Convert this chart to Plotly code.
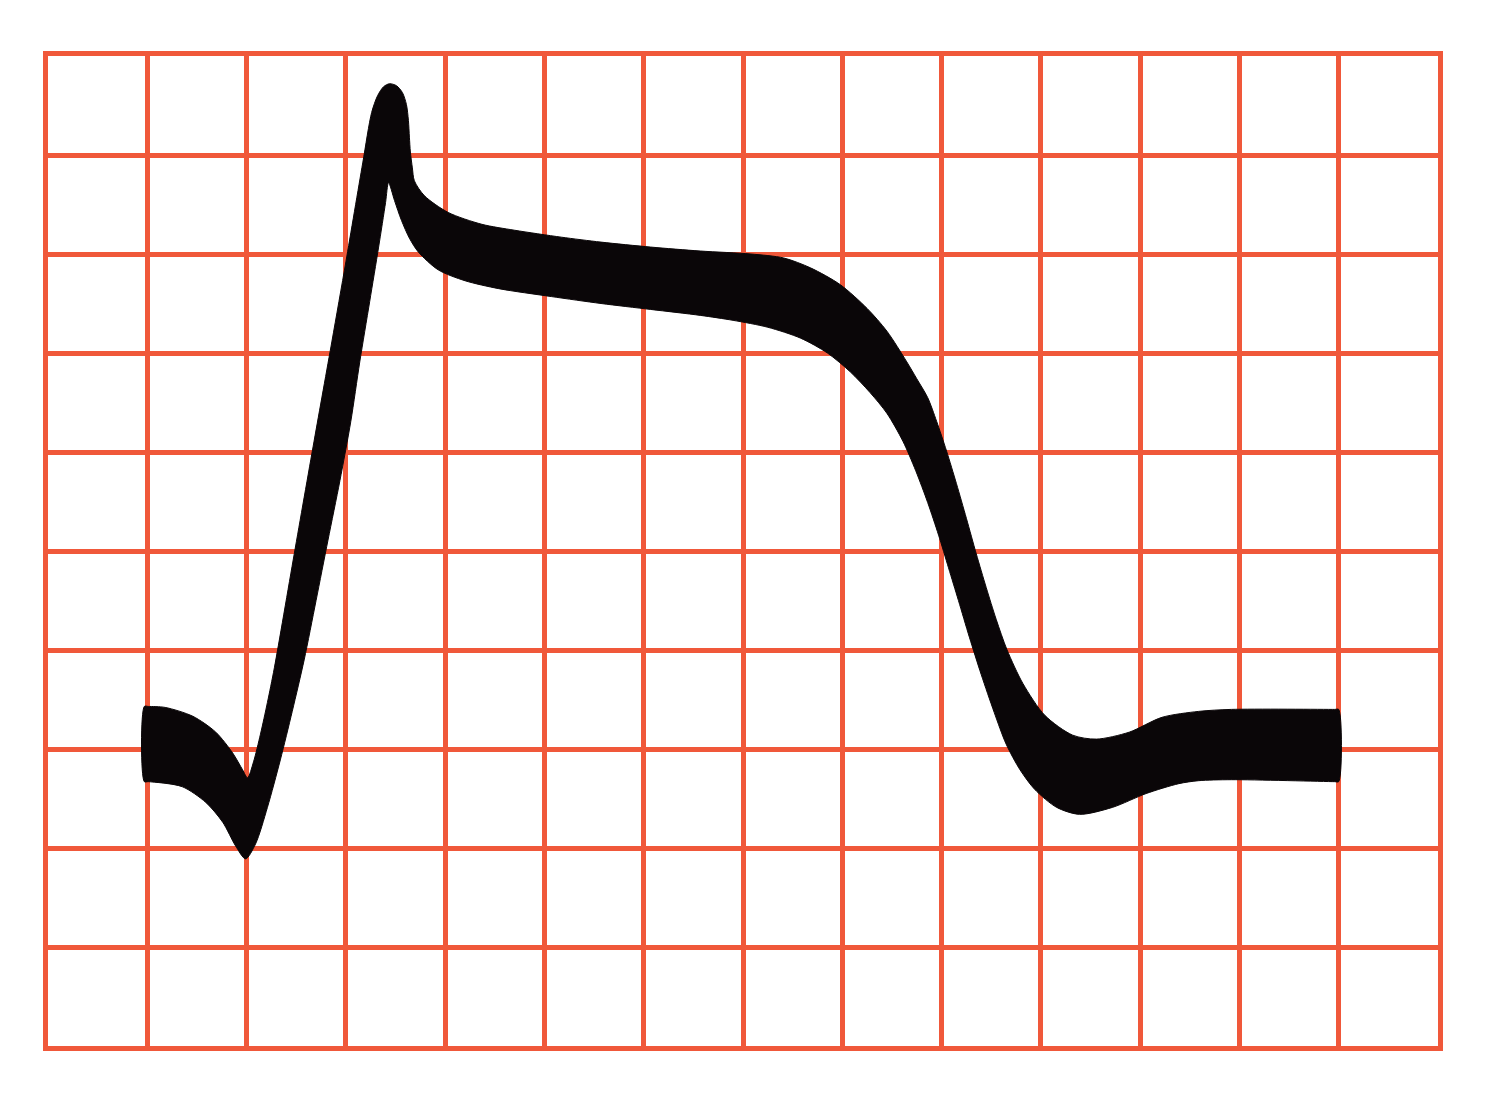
import plotly.graph_objects as go

# Trace of the action-potential-like waveform, in grid units
# (x: big boxes from the left grid edge, y: big boxes from the bottom grid edge).
# The pen stroke is thick, so its outline is given as an upper and a lower edge.
upper_x = [0.97, 1.01, 1.18, 1.46, 1.69, 1.86, 1.96, 2.01, 2.07, 2.14, 2.21, 2.28, 2.48, 2.68,
           2.86, 3.00, 3.17, 3.26, 3.32, 3.38, 3.44, 3.51, 3.57, 3.61, 3.63, 3.64, 3.65, 3.67,
           3.69, 3.79, 4.03, 4.37, 4.70, 5.17, 5.57, 6.07, 6.57, 7.08, 7.41, 7.68, 7.98, 8.25,
           8.45, 8.65, 8.75, 8.86, 8.95, 9.05, 9.15, 9.25, 9.35, 9.45, 9.55, 9.66, 9.82, 10.04,
           10.32, 10.56, 10.89, 11.22, 11.59, 11.92, 12.96, 13.00]
upper_y = [3.43, 3.43, 3.42, 3.33, 3.17, 2.96, 2.79, 2.71, 2.87, 3.15, 3.47, 3.82, 4.97, 6.11,
           7.12, 7.92, 8.92, 9.43, 9.60, 9.69, 9.72, 9.70, 9.63, 9.51, 9.35, 9.18, 9.03, 8.87,
           8.74, 8.59, 8.42, 8.30, 8.24, 8.17, 8.12, 8.07, 8.03, 8.00, 7.96, 7.86, 7.69, 7.45,
           7.22, 6.91, 6.74, 6.55, 6.31, 6.01, 5.68, 5.33, 4.97, 4.63, 4.31, 4.00, 3.66, 3.34,
           3.14, 3.10, 3.17, 3.32, 3.38, 3.40, 3.40, 3.40]

lower_x = [0.97, 1.01, 1.35, 1.59, 1.76, 1.89, 1.99, 2.09, 2.21, 2.34, 2.46, 2.58, 2.70, 2.82,
           2.94, 3.05, 3.14, 3.24, 3.33, 3.40, 3.43, 3.49, 3.56, 3.64, 3.73, 3.93, 4.20, 4.54,
           5.07, 5.57, 6.07, 6.57, 6.90, 7.25, 7.58, 7.85, 8.08, 8.28, 8.45, 8.61, 8.74, 8.86,
           8.97, 9.07, 9.17, 9.28, 9.40, 9.53, 9.65, 9.79, 9.94, 10.16, 10.39, 10.72, 11.06,
           11.39, 11.59, 11.92, 12.96, 13.00]
lower_y = [2.67, 2.67, 2.62, 2.46, 2.26, 2.02, 1.89, 2.04, 2.41, 2.89, 3.38, 3.90, 4.50, 5.11,
           5.71, 6.31, 6.91, 7.52, 8.07, 8.52, 8.72, 8.54, 8.34, 8.16, 8.02, 7.84, 7.73, 7.65,
           7.57, 7.50, 7.44, 7.38, 7.33, 7.26, 7.15, 7.00, 6.81, 6.60, 6.39, 6.11, 5.81, 5.49,
           5.16, 4.83, 4.50, 4.13, 3.75, 3.37, 3.05, 2.79, 2.59, 2.41, 2.34, 2.41, 2.55,
           2.65, 2.68, 2.69, 2.67, 2.67]

grid_cols = 14
grid_rows = 10

GRID = "#f0583a"
INK = "#0a0608"

outline_x = upper_x + lower_x[::-1] + [upper_x[0]]
outline_y = upper_y + lower_y[::-1] + [upper_y[0]]

fig = go.Figure()
fig.add_trace(go.Scatter(
    x=outline_x, y=outline_y,
    mode="lines",
    fill="toself",
    fillcolor=INK,
    line=dict(color=INK, width=1, shape="spline", smoothing=0.8, simplify=False),
    hoverinfo="skip",
    showlegend=False,
))

axis_common = dict(
    showgrid=True, gridcolor=GRID, gridwidth=5,
    dtick=1, tick0=0,
    showticklabels=False, ticks="",
    zeroline=False,
    showline=True, mirror=True, linecolor=GRID, linewidth=5,
    fixedrange=True,
)
fig.update_xaxes(range=[0, grid_cols], **axis_common)
fig.update_yaxes(range=[0, grid_rows], **axis_common)

fig.update_layout(
    width=1496, height=1112,
    margin=dict(l=40, r=66, t=48, b=74),
    paper_bgcolor="white",
    plot_bgcolor="white",
)

fig.write_html("out.html")
